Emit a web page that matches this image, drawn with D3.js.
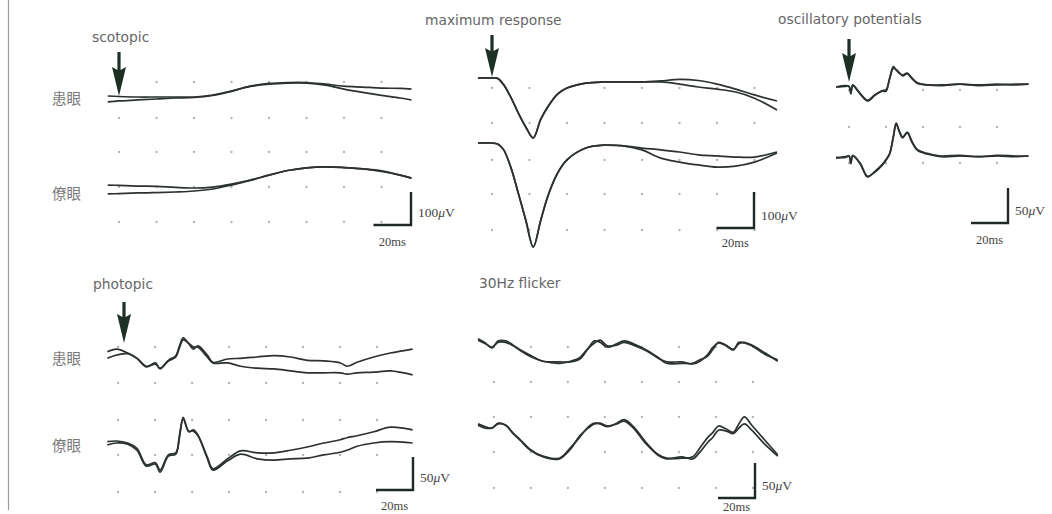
<!DOCTYPE html>
<html><head><meta charset="utf-8">
<script src="https://cdn.jsdelivr.net/npm/d3@7"></script>
<style>body{margin:0;background:#fff}svg{display:block}</style>
</head><body><svg id="c" width="1052" height="514"></svg>
<script>
// ---------- DATA (time in ms, amplitude in µV) ----------
const scotopicTime = [-6, 0, 10, 20, 30, 40, 50, 60, 70, 80, 90, 100, 110, 120, 130, 140, 150, 156];
const scotopicAffectedA = [3, 1.5, 0, 0, 0, 0, 6, 18, 33, 41, 44, 44, 39, 33, 30, 27, 26, 24];
const scotopicAffectedB = [-15, -12, -9, -6, -3, -1.5, 4.5, 17, 32, 39, 42, 42, 36, 24, 14, 5, -3, -9];
const scotopicFellowA = [15, 14, 12, 11, 8, 6, 9, 18, 30, 45, 59, 67, 70, 68, 64, 58, 45, 36];
const scotopicFellowB = [-12, -11, -9, -8, -6, -3, 3, 15, 29, 45, 59, 67, 70, 68, 64, 56, 45, 36];

const maxTime = [-7.5, 0, 3, 6, 10, 14, 18, 22, 26, 30, 35, 40, 50, 60, 70, 80, 90, 100, 110, 120, 130, 140, 152];
const maxAffectedA = [0, 0, -1, -17, -53, -97, -136, -167, -114, -78, -44, -28, -14, -11, -11, -11, -8, -4, -7, -17, -31, -47, -64];
const maxAffectedB = [0, 0, -1, -17, -53, -97, -136, -166, -115, -79, -45, -28, -14, -11, -11, -11, -11, -17, -25, -31, -39, -56, -89];
const maxFellowA = [0, 0, -3, -17, -67, -139, -214, -289, -214, -144, -83, -47, -14, -6, -8, -14, -19, -25, -33, -36, -39, -39, -25];
const maxFellowB = [0, 0, -3, -17, -67, -139, -214, -288, -215, -145, -84, -47, -14, -6, -8, -19, -42, -53, -61, -67, -64, -53, -28];

const opTime = [-7, -2, 0, 1, 2, 6, 10, 14, 18, 20, 22, 24, 25.5, 27, 29, 31.5, 34, 37, 42, 50, 60, 70, 80, 90, 97];
const opAffectedA = [0, 1, 1, -10, 3, -9, -19, -11, -6, -6, 13, 29, 24, 20, 17, 20, 13, 6, 3, 3, 4, 3, 4, 3, 4];
const opAffectedB = [0, 2, 1, -8, 2, -10, -20, -12, -5, -4, 12, 27, 25, 21, 16, 19, 12, 5, 3, 2, 4, 2, 3, 4, 4];
const opFellowA = [-3, -1, 0, -11, 1, -10, -29, -23, -13, -6, 3, 29, 47, 37, 27, 34, 21, 9, 4, -1, 0, -1, 0, -1, 0];
const opFellowB = [-2, -2, 0, -10, 0, -11, -30, -22, -12, -5, 4, 27, 46, 36, 26, 33, 20, 8, 3, 0, 1, -1, 1, 0, 0];

const photopicTime = [-9, -4, 2, 7, 12, 17, 19.5, 24, 28, 30, 32, 35, 37.5, 40, 45, 48, 56, 63, 72, 81, 90, 99, 108, 117, 120.5, 126, 135, 144, 156];
const photopicAffectedA = [8, 12, 6, -2, -15, -9, -18, -5, 2, 17, 29, 20, 12, 17, 3, -8, -3, -2, 0, 2, 0, -5, -6, -9, -14, -8, 0, 6, 12];
const photopicAffectedB = [-2, 3, 5, -2, -14, -11, -17, -6, 0, 14, 26, 21, 15, 15, 0, -9, -9, -14, -17, -18, -21, -24, -24, -24, -26, -24, -23, -21, -27];
const photopicFellowA = [2, 3, 0, -8, -33, -30, -41, -18, -15, 12, 39, 17, 20, 12, -21, -39, -24, -12, -15, -15, -11, -6, 0, 5, 8, 11, 17, 24, 20];
const photopicFellowB = [-3, 0, -2, -11, -35, -32, -44, -20, -17, 9, 36, 18, 18, 11, -23, -41, -27, -17, -24, -26, -24, -23, -18, -14, -11, -5, 0, 2, 0];

const flickerTime = [0, 4, 7.5, 11, 15, 19, 23, 28, 35, 44, 50, 55, 59, 63, 66, 70, 75, 79, 84, 91, 97, 102, 110, 116, 120, 124, 127, 130, 134, 138, 141, 144, 148, 155, 162];
const flickerAffectedA = [16, 10, 3, 13, 13, 7, 0, -7, -16, -17, -17, -13, 0, 13, 11, 4, 9, 13, 9, 0, -10, -19, -19, -19, -14, -9, 1, 11, 7, 1, 9, 11, 7, -4, -16];
const flickerAffectedB = [14, 9, 4, 11, 11, 6, -1, -9, -16, -19, -16, -11, 1, 10, 14, 6, 7, 11, 7, -1, -11, -17, -17, -20, -16, -7, 4, 10, 6, 0, 11, 10, 6, -6, -14];
const flickerFellowA = [23, 19, 17, 24, 21, 10, 0, -13, -23, -26, -11, 4, 17, 24, 23, 19, 24, 29, 19, -4, -20, -26, -26, -24, -11, 3, 11, 20, 16, 11, 23, 33, 21, 0, -21];
const flickerFellowB = [21, 17, 17, 23, 21, 9, -1, -14, -24, -27, -13, 6, 16, 23, 24, 20, 23, 27, 17, -6, -21, -27, -24, -27, -17, -4, 4, 14, 13, 9, 17, 23, 14, -6, -23];

const panelTitles = ["scotopic", "maximum response", "oscillatory potentials", "photopic", "30Hz flicker"];
const eyeLabels = ["患眼", "僚眼"];
const ampLabels = ["100", "100", "50", "50", "50"];
const timeLabel = "20ms";

// ---------- LAYOUT ----------
const panels = [
  {title: 0, tx: 92, ty: 42, time: scotopicTime, rows: [[scotopicAffectedA, scotopicAffectedB], [scotopicFellowA, scotopicFellowB]],
   x0: 119, px20: 37.5, base: [97, 190], ref: 100, refPx: 33, bar: [411, 225], msY: 246,
   gridT: d3.range(0, 141, 20), gridY: [82, 118, 152, 187, 222], arrow: [52, 96], eyes: [98, 193]},
  {title: 1, tx: 425, ty: 25, time: maxTime, rows: [[maxAffectedA, maxAffectedB], [maxFellowA, maxFellowB]],
   x0: 492, px20: 37.5, base: [78, 143], ref: 100, refPx: 36, bar: [754, 228], msY: 247,
   gridT: d3.range(0, 141, 20), gridY: [88, 123, 160, 194, 230], arrow: [35, 77]},
  {title: 2, tx: 778, ty: 24, time: opTime, rows: [[opAffectedA, opAffectedB], [opFellowA, opFellowB]],
   x0: 849, px20: 37, base: [87, 156], ref: 50, refPx: 35, bar: [1008, 223], msY: 244,
   gridT: d3.range(0, 81, 20), gridY: [90, 127, 163], arrow: [39, 82]},
  {title: 3, tx: 93, ty: 289, time: photopicTime, rows: [[photopicAffectedA, photopicAffectedB], [photopicFellowA, photopicFellowB]],
   x0: 124, px20: 37, base: [357, 443], ref: 50, refPx: 33, bar: [413, 490], msY: 510,
   gridT: d3.range(-3.2, 140, 20), gridY: [347, 383, 420, 455, 492], arrow: [302, 343], eyes: [358, 445]},
  {title: 4, tx: 479, ty: 288, time: flickerTime, rows: [[flickerAffectedA, flickerAffectedB], [flickerFellowA, flickerFellowB]],
   x0: 478, px20: 37, base: [350, 440], ref: 50, refPx: 35, bar: [755, 498], msY: 511,
   gridT: d3.range(8.6, 150, 20), gridY: [347, 382, 417, 452, 488]}
];

const svg = d3.select("#c");
svg.append("rect").attr("width", 1052).attr("height", 514).attr("fill", "#fff");
svg.append("line").attr("x1", 8.5).attr("x2", 8.5).attr("y1", 0).attr("y2", 510)
  .attr("stroke", "#9a9a9a").attr("stroke-width", 1.2);

const traceColor = "#2b3230";
panels.forEach((p, pi) => {
  const x = d3.scaleLinear().domain([0, 20]).range([p.x0, p.x0 + p.px20]);
  const g = svg.append("g");
  // grid dots
  p.gridY.forEach(gy => p.gridT.forEach(t => {
    g.append("circle").attr("cx", x(t)).attr("cy", gy).attr("r", 1.15).attr("fill", "#b0b0b0");
  }));
  // traces
  p.rows.forEach((row, ri) => {
    const y = d3.scaleLinear().domain([0, p.ref]).range([p.base[ri], p.base[ri] - p.refPx]);
    const line = d3.line().x((d, i) => x(p.time[i])).y(d => y(d)).curve(d3.curveCatmullRom.alpha(0.5));
    row.forEach(series => {
      g.append("path").attr("d", line(series)).attr("fill", "none")
        .attr("stroke", traceColor).attr("stroke-width", 1.7).attr("stroke-linejoin", "round");
    });
    if (p.eyes) {
      svg.append("text").attr("x", 52).attr("y", p.eyes[ri] + 5.5).text(eyeLabels[ri])
        .attr("font-family", "'Noto Sans CJK JP'").attr("font-size", 14.5).attr("fill", "#7a7a7a");
    }
  });
  // title
  svg.append("text").attr("x", p.tx).attr("y", p.ty).text(panelTitles[p.title])
    .attr("font-family", "'DejaVu Sans'").attr("font-size", 13.8).attr("fill", "#666");
  // arrow
  if (p.arrow) {
    const ax = x(0), top = p.arrow[0], tip = p.arrow[1], hs = tip - 26;
    svg.append("path")
      .attr("d", `M${ax - 1.6},${top} L${ax + 1.6},${top} L${ax + 1.6},${hs} L${ax + 7},${hs - 3} L${ax},${tip} L${ax - 7},${hs - 3} L${ax - 1.6},${hs} Z`)
      .attr("fill", "#1d3026");
  }
  // scale bar
  const yb = d3.scaleLinear().domain([0, p.ref]).range([p.bar[1], p.bar[1] - p.refPx]);
  const bx = p.bar[0];
  svg.append("path")
    .attr("d", `M${bx - (x(20) - x(0))},${yb(0)} L${bx},${yb(0)} L${bx},${yb(p.ref)}`)
    .attr("fill", "none").attr("stroke", "#1f2a25").attr("stroke-width", 2.4);
  const t1 = svg.append("text").attr("x", bx + 7).attr("y", p.bar[1] - 8)
    .attr("font-family", "'Liberation Serif'").attr("font-size", 13.5).attr("fill", "#444");
  t1.append("tspan").text(ampLabels[pi]);
  t1.append("tspan").text("μ").attr("font-style", "italic");
  t1.append("tspan").text("V");
  svg.append("text").attr("x", bx - (x(20) - x(0)) / 2).attr("y", p.msY)
    .attr("text-anchor", "middle").text(timeLabel)
    .attr("font-family", "'Liberation Serif'").attr("font-size", 12.5).attr("fill", "#444");
});
</script></body></html>
